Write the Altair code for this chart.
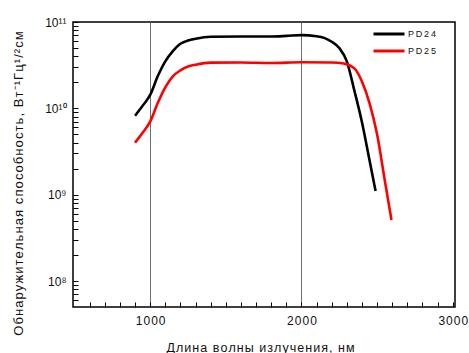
import altair as alt
import pandas as pd

# Detectivity spectra of the two photodiodes
wl_pd24 = [900, 950, 1000, 1050, 1100, 1150, 1200, 1250, 1300, 1400, 1600, 1800,
           1900, 2000, 2100, 2150, 2200, 2250, 2300, 2350, 2400, 2450, 2490]
d_pd24 = [8.2e9, 1.07e10, 1.43e10, 2.35e10, 3.5e10, 4.6e10, 5.6e10, 6.1e10, 6.4e10,
          6.75e10, 6.8e10, 6.8e10, 6.9e10, 7.05e10, 6.85e10, 6.55e10, 5.9e10, 5.0e10,
          3.5e10, 1.6e10, 6.9e9, 2.5e9, 1.1e9]

wl_pd25 = [900, 950, 1000, 1050, 1100, 1150, 1200, 1250, 1300, 1400, 1600, 1800,
           2000, 2200, 2280, 2350, 2400, 2450, 2500, 2550, 2595]
d_pd25 = [4.0e9, 5.2e9, 7.0e9, 1.15e10, 1.75e10, 2.35e10, 2.75e10, 3.05e10, 3.2e10,
          3.38e10, 3.4e10, 3.35e10, 3.42e10, 3.4e10, 3.3e10, 2.9e10, 2.05e10, 1.15e10,
          5.0e9, 1.5e9, 5.1e8]

series = ["PD24", "PD25"]
colors = ["#000000", "#ff0000"]

x_domain = [490, 3015]
y_domain = [5e7, 1e11]

x_labels = [1000, 2000, 3000]
x_grid = [1000, 2000]
x_minor = [v for v in range(600, 3000, 100) if v not in x_labels]
y_major = [1e8, 1e9, 1e10, 1e11]
y_labels = ["10\u2078", "10\u2079", "10\u00b9\u2070", "10\u00b9\u00b9"]
y_minor = [m * 10 ** e for e in range(7, 11) for m in range(2, 10)
           if y_domain[0] < m * 10 ** e < y_domain[1]]

HS = "\u200a"  # hair space, used as light letter tracking
x_title = HS.join("Длина волны излучения, нм")
y_title = HS.join("Обнаружительная способность, Вт\u207b\u00b9Гц\u00b9/\u00b2см")

df = pd.concat([
    pd.DataFrame({"wl": wl_pd24, "D": d_pd24, "s": "PD24"}),
    pd.DataFrame({"wl": wl_pd25, "D": d_pd25, "s": "PD25"}),
])

FONT = "Liberation Sans"
TICK = 5  # inward tick length: the axes are pulled inside the frame by this much

xs = alt.Scale(domain=x_domain, nice=False, zero=False)
ys = alt.Scale(type="log", domain=y_domain, nice=False)

x_major_js = "[" + ",".join(str(v) for v in x_labels) + "]"
y_major_js = "[" + ",".join(repr(v) for v in y_major) + "]"
y_labels_js = "[" + ",".join(f"'{l}'" for l in y_labels) + "]"
grid_test = " || ".join(f"datum.value == {v}" for v in x_grid)

# minor tick positions get an empty label
x_label_expr = (f"indexof({x_major_js}, datum.value) >= 0 ? "
                f"join(split(toString(datum.value), ''), '{HS}') : ''")
y_label_expr = (f"indexof({y_major_js}, datum.value) >= 0 ? "
                f"{y_labels_js}[round(log(datum.value)/LN10) - 8] : ''")

x_axis = alt.Axis(
    orient="bottom", values=sorted(x_labels + x_minor), labelExpr=x_label_expr,
    labelOverlap=False, labelFlush=False,
    offset=-TICK, ticks=True, tickSize=TICK, tickColor="#000", tickWidth=1,
    domain=False, grid=True, gridWidth=1, gridColor="#6e6e6e",
    gridOpacity={"condition": {"test": grid_test, "value": 1}, "value": 0},
    labelPadding=8, labelFont=FONT, labelFontSize=12, labelColor="#111",
    title=x_title, titleFont=FONT, titleFontSize=12.5, titleFontWeight="normal",
    titleColor="#111", titleX=187, titleY=40 + TICK,
    titleBaseline="middle", titleAnchor="middle")
y_axis = alt.Axis(
    orient="left", values=sorted(y_major + y_minor), labelExpr=y_label_expr,
    labelOverlap=False,
    offset=-TICK, ticks=True, tickSize=TICK, tickColor="#000", tickWidth=1,
    domain=False, grid=False, labelPadding=7, labelFont=FONT, labelFontSize=12,
    labelColor="#111", title=y_title, titleFont=FONT, titleFontSize=13,
    titleFontWeight="normal", titleColor="#111", titleX=-55 - TICK, titleY=161,
    titleAngle=-90, titleBaseline="middle", titleAlign="center")

chart = alt.Chart(df).mark_line(strokeWidth=2.6, interpolate="monotone").encode(
    x=alt.X("wl:Q", scale=xs, axis=x_axis),
    y=alt.Y("D:Q", scale=ys, axis=y_axis),
    color=alt.Color("s:N", scale=alt.Scale(domain=series, range=colors), legend=alt.Legend(
        orient="none", legendX=299, legendY=5, title=None, symbolType="stroke",
        symbolSize=961, symbolStrokeWidth=3, clipHeight=14, rowPadding=3, labelOffset=2,
        labelFont=FONT, labelFontSize=9, labelColor="#111",
        labelExpr="join(split(datum.label, ''), '\u2009')")),
).properties(
    width=382, height=285,
    autosize=alt.AutoSizeParams(type="none"),
    padding={"left": 73, "top": 22, "right": 14, "bottom": 46},
    background="white",
).configure_view(stroke="#000", strokeWidth=1.5)

chart.save("out.html", embed_options={"renderer": "svg", "actions": False})
